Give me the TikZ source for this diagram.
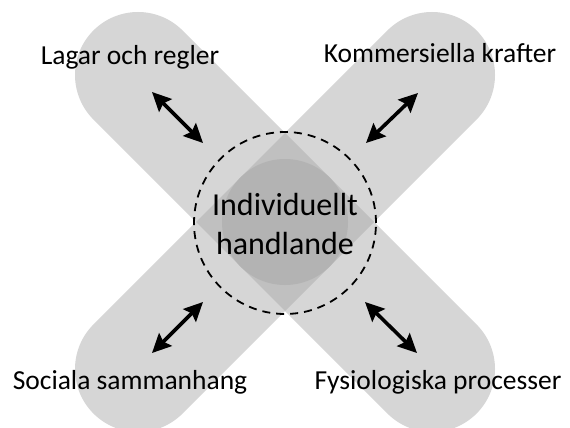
\documentclass[tikz,border=0pt]{standalone}
\usepackage{fontspec}
\setmainfont{Carlito}
\usetikzlibrary{arrows.meta}
\definecolor{bandgray}{RGB}{214,214,214}
\definecolor{overlapgray}{RGB}{192,192,192}
\definecolor{coregray}{RGB}{179,179,179}
\tikzset{
  band/.style={line width=126pt, line cap=round, draw=bandgray},
  link/.style={line width=3.6pt, {Stealth[length=19pt,width=18pt,inset=3pt]}-{Stealth[length=19pt,width=18pt,inset=3pt]}},
  label/.style={font=\fontsize{27.5}{32}\selectfont, anchor=base, inner sep=0pt},
  centertext/.style={font=\fontsize{32}{39}\selectfont, align=center, inner sep=0pt}
}
\begin{document}
\begin{tikzpicture}[x=1pt,y=-1pt]
\useasboundingbox (0,0) rectangle (570,428);
\clip (0,0) rectangle (570,428);
% bands
\draw[band] (138,75) -- (432,369);
\draw[band] (432,75) -- (138,369);
% overlap diamond
\fill[overlapgray] (285,133) -- (374,222) -- (285,311) -- (196,222) -- cycle;
% core circle
\fill[coregray] (285,222) circle (63);
% dashed circle
\node[draw, circle, line width=1.8pt, dash pattern=on 8pt off 6pt, minimum size=182pt, inner sep=0pt] (ring) at (285,223) {};
\node[centertext] (core) at (285,224) {Individuellt\\handlande};
% labels
\node[label] (lag) at (130,65) {Lagar och regler};
\node[label] (kom) at (440,63) {Kommersiella krafter};
\node[label] (soc) at (130,389) {Sociala sammanhang};
\node[label] (fys) at (438,389) {Fysiologiska processer};
% arrow endpoints
\coordinate (a1) at (152,92);  \coordinate (b1) at (203,143);
\coordinate (a2) at (418,93);  \coordinate (b2) at (366,143);
\coordinate (a3) at (152,353); \coordinate (b3) at (203,302);
\coordinate (a4) at (417,353); \coordinate (b4) at (365,302);
\draw[link] (a1) -- (b1);
\draw[link] (a2) -- (b2);
\draw[link] (a3) -- (b3);
\draw[link] (a4) -- (b4);
\end{tikzpicture}
\end{document}
